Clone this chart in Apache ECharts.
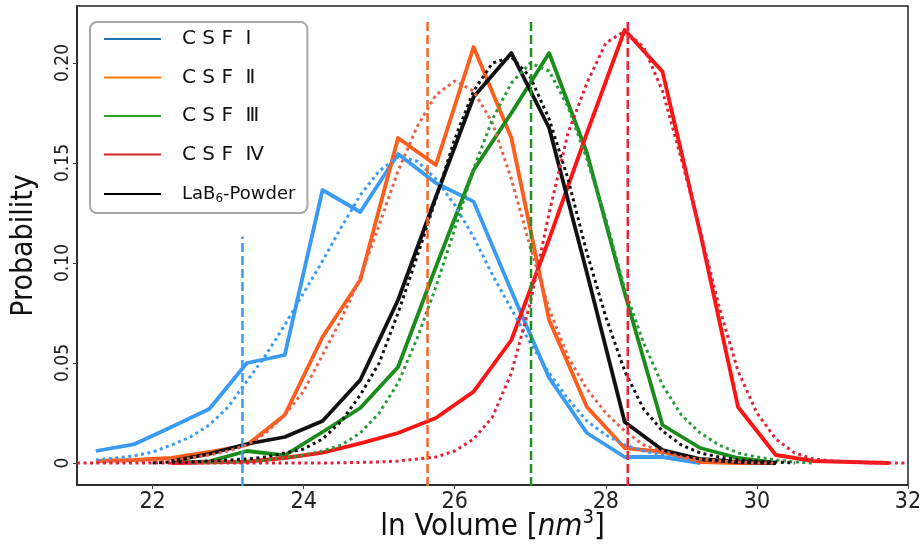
<!DOCTYPE html>
<html><head><meta charset="utf-8">
<script src="https://cdn.jsdelivr.net/npm/echarts@6/dist/echarts.min.js"></script>
<style>html,body{margin:0;padding:0;background:#fff}#c{width:922px;height:544px}</style>
</head><body><div id="c"></div>
<script>
// ---- data ----
const legendNames = ['C S F  Ⅰ', 'C S F  Ⅱ', 'C S F  Ⅲ', 'C S F  Ⅳ', 'LaB6-Powder'];
const xTicks = [22, 24, 26, 28, 30, 32];
const yTicks = [0, 0.05, 0.10, 0.15, 0.20];

const xSolid = [21.25, 21.75, 22.25, 22.75, 23.25, 23.75, 24.25, 24.75, 25.25, 25.75, 26.25, 26.75, 27.25, 27.75, 28.25, 28.75, 29.25, 29.75, 30.25, 30.75, 31.25, 31.75];
const blueSolid   = [0.006, 0.0093, 0.018, 0.027, 0.050, 0.054, 0.1365, 0.1255, 0.1545, 0.140, 0.1307, 0.086, 0.0425, 0.015, 0.003, 0.003, 0.0, null, null, null, null, null];
const orangeSolid = [0.001, 0.0015, 0.0025, 0.0055, 0.009, 0.024, 0.063, 0.0915, 0.1625, 0.149, 0.208, 0.1625, 0.0715, 0.028, 0.0075, 0.0055, 0.0005, 0.0, 0.0, null, null, null];
const greenSolid  = [null, null, 0.0, 0.0008, 0.006, 0.0038, 0.0155, 0.0275, 0.048, 0.098, 0.1465, 0.175, 0.205, 0.155, 0.085, 0.019, 0.0075, 0.0025, 0.0, null, null, null];
const redSolid    = [null, null, 0.0, 0.0003, 0.0007, 0.0025, 0.0052, 0.0098, 0.015, 0.0225, 0.0357, 0.0615, 0.112, 0.165, 0.2165, 0.1957, 0.115, 0.028, 0.004, 0.001, 0.0005, 0.0];
const blackSolid  = [null, null, 0.001, 0.0045, 0.0095, 0.013, 0.021, 0.0415, 0.0815, 0.133, 0.183, 0.205, 0.1675, 0.095, 0.0205, 0.0065, 0.002, 0.0005, 0.0, null, null, null];

const xFit = [21, 21.25, 21.5, 21.75, 22, 22.25, 22.5, 22.75, 23, 23.25, 23.5, 23.75, 24, 24.25, 24.5, 24.75, 25, 25.25, 25.5, 25.75, 26, 26.25, 26.5, 26.75, 27, 27.25, 27.5, 27.75, 28, 28.25, 28.5, 28.75, 29, 29.25, 29.5, 29.75, 30, 30.25, 30.5, 30.75, 31, 31.25, 31.5, 31.75, 32];
const blueFit = [null, 0.0015, 0.0025, 0.0035, 0.0055, 0.009, 0.013, 0.019, 0.028, 0.041, 0.054, 0.069, 0.085, 0.101, 0.118, 0.134, 0.146, 0.153, 0.151, 0.142, 0.129, 0.113, 0.094, 0.077, 0.06, 0.045, 0.032, 0.021, 0.014, 0.009, 0.006, 0.004, 0.002, 0.001, null, null, null, null, null, null, null, null, null, null, null];
const orangeFit = [null, 0.0005, 0.0005, 0.001, 0.001, 0.0015, 0.0025, 0.004, 0.006, 0.009, 0.015, 0.024, 0.036, 0.054, 0.072, 0.093, 0.119, 0.146, 0.168, 0.184, 0.191, 0.186, 0.17, 0.142, 0.108, 0.077, 0.053, 0.037, 0.025, 0.016, 0.009, 0.006, 0.003, 0.002, 0.001, 0.0005, 0, 0, null, null, null, null, null, null, null];
const greenFit = [null, null, null, null, null, null, 0, 0.0003, 0.0005, 0.001, 0.0015, 0.0025, 0.004, 0.006, 0.009, 0.015, 0.025, 0.04, 0.062, 0.088, 0.117, 0.147, 0.172, 0.19, 0.2, 0.196, 0.178, 0.152, 0.122, 0.087, 0.06, 0.039, 0.024, 0.015, 0.009, 0.005, 0.003, 0.0015, 0.0005, 0, null, null, null, null, null];
const redFit = [0, 0, 0, 0, 0, 0, 0, 0, 0, 0, 0, 0, 0, 0, 0.0001, 0.0003, 0.0005, 0.001, 0.002, 0.003, 0.006, 0.012, 0.023, 0.045, 0.08, 0.125, 0.165, 0.19, 0.21, 0.216, 0.208, 0.186, 0.152, 0.116, 0.078, 0.046, 0.025, 0.012, 0.005, 0.002, 0.001, 0.0005, 0, 0, 0];
const blackFit = [null, null, null, null, 0, 0.0005, 0.0005, 0.001, 0.0015, 0.002, 0.003, 0.005, 0.007, 0.012, 0.021, 0.034, 0.05, 0.075, 0.103, 0.132, 0.162, 0.186, 0.2, 0.203, 0.193, 0.172, 0.142, 0.105, 0.073, 0.046, 0.027, 0.016, 0.009, 0.005, 0.003, 0.0015, 0.001, 0.0005, 0, null, null, null, null, null, null];

// mean markers (vertical dashed lines)
const vlineX   = [23.19, 25.64, 27.01, 28.29];
const vlineTop = [0.1132, 0.2215, 0.2215, 0.2215];

// ---- style ----
const legendColors = ['#1f77b4', '#ff7f0e', '#2ca02c', '#d62728', '#000000'];
const solidColors  = ['#3a9bf2', '#ff5d1c', '#1b8c1b', '#ff1414', '#111111'];
const fitColors    = ['#3a9bf2', '#e8624a', '#2a9a3a', '#e0243c', '#111111'];
const vlineColors  = ['#3a9bf2', '#f2682a', '#1f8f1f', '#e8263a'];
const FONT = '"DejaVu Sans Condensed", "DejaVu Sans", sans-serif';
const LFONT = '"DejaVu Sans", sans-serif';

const yMin = -0.011, yMax = 0.2285;

function pairs(xs, ys) {
  const out = [];
  for (let i = 0; i < xs.length; i++) if (ys[i] !== null) out.push([xs[i], ys[i]]);
  return out;
}

const solids = [blueSolid, orangeSolid, greenSolid, redSolid, blackSolid];
const fits = [blueFit, orangeFit, greenFit, redFit, blackFit];

const series = [];
for (let i = 0; i < 5; i++) {
  series.push({
    name: legendNames[i], type: 'line', data: pairs(xSolid, solids[i]),
    symbol: 'none', showSymbol: false,
    itemStyle: { color: legendColors[i] },
    lineStyle: { color: solidColors[i], width: 3.8, join: 'round' },
    z: 2, silent: true
  });
  series.push({
    name: 'fit' + i, type: 'line', data: pairs(xFit, fits[i]),
    symbol: 'none', showSymbol: false,
    lineStyle: { color: fitColors[i], width: 3, type: [3, 3.5] },
    z: 3, silent: true
  });
  if (i < 4) {
    series.push({
      name: 'mean' + i, type: 'line',
      data: [[vlineX[i], yMin - 0.02], [vlineX[i], vlineTop[i]]],
      symbol: 'none', showSymbol: false, clip: true,
      lineStyle: { color: vlineColors[i], width: 2.5, type: [9, 4] },
      z: 4, silent: true
    });
  }
}

const chart = echarts.init(document.getElementById('c'), null, { renderer: 'canvas' });
chart.setOption({
  animation: false,
  backgroundColor: '#ffffff',
  grid: { left: 77, right: 14, top: 6, bottom: 59, show: true, borderColor: '#222', borderWidth: 1.5, containLabel: false, outerBoundsMode: 'none' },
  legend: {
    orient: 'vertical', left: 90, top: 22,
    padding: [7, 12, 8, 14],
    itemWidth: 57, itemHeight: 2, itemGap: 18.5,
    backgroundColor: 'rgba(255,255,255,0.9)', borderColor: '#a8a8a8', borderWidth: 2, borderRadius: 7,
    data: legendNames.map((n, i) => ({ name: n, icon: 'rect', itemStyle: { color: legendColors[i] } })),
    formatter: function (name) {
      if (name === 'LaB6-Powder') return '{g| }{t|LaB}{sub|6}{t|-Powder}';
      return '{g| }{c|' + name + '}';
    },
    textStyle: {
      color: '#111', fontFamily: LFONT,
      rich: {
        g: { width: 16, fontSize: 10, lineHeight: 22 },
        c: { fontSize: 20, fontFamily: LFONT, color: '#111', lineHeight: 22 },
        t: { fontSize: 18, fontFamily: LFONT, color: '#111', lineHeight: 22 },
        sub: { fontSize: 12, fontFamily: LFONT, color: '#111', lineHeight: 12, padding: [10, 0, 0, 0] }
      }
    },
    selectedMode: false
  },
  xAxis: {
    type: 'value', min: 21, max: 32,
    splitLine: { show: false },
    axisLine: { show: true, onZero: false, lineStyle: { color: '#222', width: 1.5 } },
    axisTick: { show: true, customValues: xTicks, length: 4, lineStyle: { color: '#444' } },
    axisLabel: { customValues: xTicks, fontFamily: FONT, fontSize: 23, color: '#222', margin: 6 },
    name: 'ln Volume [{i|nm}{s|3}]', nameLocation: 'middle', nameGap: 23, nameMoveOverlap: false,
    nameTextStyle: {
      fontFamily: FONT, fontSize: 31, color: '#111',
      rich: {
        i: { fontStyle: 'italic', fontFamily: FONT, fontSize: 31, color: '#111' },
        s: { fontFamily: FONT, fontSize: 20, color: '#111', padding: [0, 0, 18, 0] }
      }
    }
  },
  yAxis: {
    type: 'value', min: yMin, max: yMax,
    splitLine: { show: false },
    axisLine: { show: true, onZero: false, lineStyle: { color: '#222', width: 1.5 } },
    axisTick: { show: true, customValues: yTicks, length: 4, lineStyle: { color: '#444' } },
    axisLabel: {
      customValues: yTicks, rotate: 90, fontFamily: FONT, fontSize: 19, color: '#222', margin: 4,
      formatter: function (v) { return v === 0 ? '0' : v.toFixed(2); }
    },
    name: 'Probability', nameLocation: 'middle', nameGap: 38,
    nameTextStyle: { fontFamily: FONT, fontSize: 30, color: '#111' }
  },
  series: series
});
</script>
</body></html>
